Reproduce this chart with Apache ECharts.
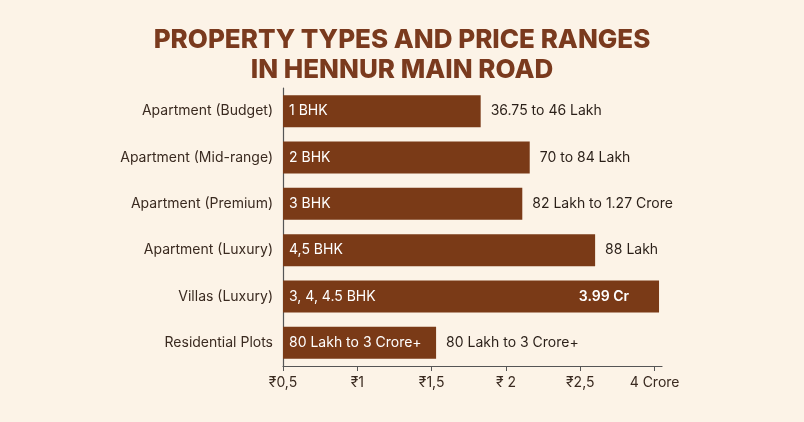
<!DOCTYPE html>
<html><head><meta charset="utf-8">
<script src="https://cdn.jsdelivr.net/npm/echarts@6/dist/echarts.min.js"></script>
<style>html,body{margin:0;background:#fcf3e7}#c{width:804px;height:422px}</style>
</head><body><div id="c"></div>
<script>
const categories = ["Apartment (Budget)","Apartment (Mid-range)","Apartment (Premium)","Apartment (Luxury)","Villas (Luxury)","Residential Plots"];
const values = [1.83, 2.16, 2.11, 2.60, 3.03, 1.53];
const insideLabels = ["1 BHK","2 BHK","3 BHK","4,5 BHK","3, 4, 4.5 BHK","80 Lakh to 3 Crore+"];
const outsideLabels = ["36.75 to 46 Lakh","70 to 84 Lakh","82 Lakh to 1.27 Crore","88 Lakh","","80 Lakh to 3 Crore+"];
const endLabels = ["","","","","3.99 Cr",""];
const tickValues = [0.5,1,1.5,2,2.5,3];
const tickLabels = ["₹0,5","₹1","₹1,5","₹ 2","₹2,5","4 Crore"];

const brown = "#7a3a17";
const ch = echarts.init(document.getElementById('c'));
ch.setOption({
  backgroundColor:"#fcf3e7",
  textStyle:{fontFamily:"Inter"},
  title:{text:"PROPERTY TYPES AND PRICE RANGES\nIN HENNUR MAIN ROAD",left:"center",top:20,
    textStyle:{color:"#7a3a1e",fontSize:26,fontWeight:800,lineHeight:30,fontFamily:"Inter"}},
  grid:{left:283,right:142,top:88,bottom:56},
  xAxis:{type:"value",min:0.5,max:3.05,interval:0.5,
    axisLine:{show:true,lineStyle:{color:"#555",width:1.2}},
    axisTick:{show:true,length:5,lineStyle:{color:"#555"}},
    splitLine:{show:false},
    axisLabel:{showMaxLabel:false,color:"#3a2a20",fontSize:14,margin:10,
      formatter:v=>{const i=tickValues.findIndex(t=>Math.abs(t-v)<1e-6);return i>=0?tickLabels[i]:"";}}},
  yAxis:{type:"category",data:categories,inverse:true,
    axisLine:{show:true,lineStyle:{color:"#555",width:1.2}},axisTick:{show:false},
    axisLabel:{color:"#3a2a20",fontSize:14,margin:10}},
  series:[
    {type:"bar",data:values,barWidth:32,itemStyle:{color:brown},
     label:{show:true,position:"insideLeft",color:"#fff",fontSize:14,distance:6,
       formatter:p=>insideLabels[p.dataIndex]}},
    {type:"bar",data:values,barWidth:32,barGap:"-100%",itemStyle:{color:"transparent"},silent:true,
     label:{show:true,position:"right",color:"#2a1f18",fontSize:14,distance:10,
       formatter:p=>outsideLabels[p.dataIndex]}},
    {type:"bar",data:values,barWidth:32,barGap:"-100%",itemStyle:{color:"transparent"},silent:true,
     label:{show:true,position:"insideRight",color:"#fff",fontSize:14,fontWeight:600,distance:30,
       formatter:p=>endLabels[p.dataIndex]}}
  ]
});
</script></body></html>
